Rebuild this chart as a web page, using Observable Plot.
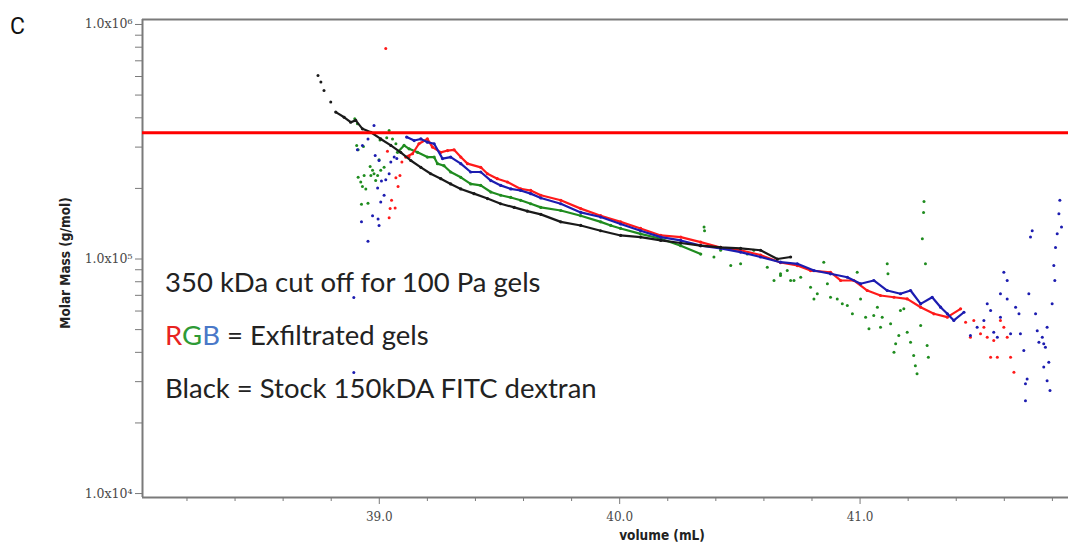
<!DOCTYPE html>
<html><head><meta charset="utf-8">
<script src="https://cdn.jsdelivr.net/npm/d3@7"></script>
<script src="https://cdn.jsdelivr.net/npm/@observablehq/plot@0.6"></script>
<style>
html,body{margin:0;padding:0;background:#fff;overflow:hidden}
#chart{position:relative;width:1068px;height:546px}
</style></head><body><div id="chart"></div>
<script>
// ---- axis settings / tick labels ----
const xDomain = [38.015, 41.867];
const yDomain = [9620, 1050000];
const xMajorTicks = [39, 40, 41];
const xTickLabels = ["39.0", "40.0", "41.0"];
const xMinorTicks = [38.2, 38.4, 38.6, 38.8, 39.2, 39.4, 39.6, 39.8, 40.2, 40.4, 40.6, 40.8, 41.2, 41.4, 41.6, 41.8];
const yMajorTicks = [1e4, 1e5, 1e6];
const yTickLabels = ["1.0x10\u2074", "1.0x10\u2075", "1.0x10\u2076"];
const yMinorTicks = [2e4, 3e4, 4e4, 5e4, 6e4, 7e4, 8e4, 9e4, 2e5, 3e5, 4e5, 5e5, 6e5, 7e5, 8e5, 9e5];
const cutoffMass = [345000];

// ---- Black: stock 150 kDa FITC dextran ----
const blackScatterVol = [38.745, 38.757, 38.770, 38.798];
const blackScatterMass = [606000, 568000, 523000, 467000];
const blackTraceVol = [38.819, 38.854, 38.881, 38.902, 38.930, 38.965, 39.006, 39.048, 39.089, 39.131, 39.173, 39.214, 39.256, 39.297, 39.339, 39.394, 39.450, 39.505, 39.561, 39.616, 39.672, 39.755, 39.838, 39.921, 40.004, 40.087, 40.171, 40.254, 40.337, 40.420, 40.503, 40.586, 40.656, 40.711];
const blackTraceMass = [423000, 402000, 383000, 390000, 359000, 347000, 325000, 305000, 285000, 263000, 246000, 231000, 220000, 209000, 199000, 190000, 181000, 172000, 166000, 160000, 155000, 144000, 139000, 132000, 126000, 124000, 120000, 117000, 114000, 112000, 111000, 109000, 100000, 102000];

// ---- Red gel ----
const redTraceVol = [39.110, 39.138, 39.165, 39.200, 39.221, 39.256, 39.284, 39.311, 39.339, 39.367, 39.422, 39.450, 39.491, 39.533, 39.588, 39.630, 39.672, 39.755, 39.838, 39.921, 40.004, 40.087, 40.171, 40.254, 40.337, 40.420, 40.503, 40.586, 40.669, 40.739, 40.794, 40.877, 40.919, 40.974, 41.030, 41.085, 41.141, 41.196, 41.252, 41.307, 41.363, 41.418];
const redTraceMass = [272000, 281000, 310000, 325000, 300000, 285000, 290000, 292000, 272000, 255000, 246000, 231000, 220000, 213000, 199000, 196000, 187000, 178000, 164000, 153000, 144000, 135000, 126000, 124000, 118000, 112000, 109000, 104000, 96600, 93800, 89300, 87800, 81000, 81000, 73400, 69900, 68700, 67600, 62300, 58400, 56500, 61300];
const redScatterVol = [39.027, 39.034, 39.069, 39.086, 39.078, 39.051, 39.066, 39.045, 39.041, 39.094, 39.124, 41.439, 41.459, 41.473, 41.501, 41.515, 41.529, 41.543, 41.556, 41.571, 41.584, 41.598, 41.612, 41.626, 41.640];
const redScatterMass = [790000, 288000, 222000, 227000, 204000, 178000, 165000, 164000, 150000, 259000, 272000, 53800, 46400, 54700, 48000, 51200, 46400, 38100, 44900, 38100, 54700, 51200, 46400, 38100, 32900];

// ---- Green gel ----
const greenTraceVol = [39.076, 39.103, 39.124, 39.159, 39.200, 39.228, 39.242, 39.269, 39.297, 39.339, 39.380, 39.422, 39.464, 39.505, 39.547, 39.588, 39.630, 39.672, 39.755, 39.838, 39.921, 39.963, 40.004, 40.087, 40.171, 40.254, 40.337];
const greenTraceMass = [285000, 305000, 295000, 285000, 272000, 272000, 255000, 250000, 235000, 223000, 209000, 206000, 193000, 187000, 183000, 178000, 172000, 166000, 161000, 153000, 144000, 139000, 135000, 128000, 122000, 114000, 105000];
const greenScatterVol = [38.898, 38.909, 38.906, 38.912, 38.934, 39.003, 39.041, 39.055, 39.069, 38.999, 38.962, 38.972, 38.912, 38.937, 38.965, 38.978, 38.993, 38.985, 38.923, 38.930, 38.944, 38.926, 38.953, 39.006, 39.020, 39.031,
  40.351, 40.353, 40.392, 40.420, 40.462, 40.503, 40.531, 40.558, 40.614, 40.642, 40.669, 40.697, 40.725,
  40.669, 40.711, 40.753, 40.794, 40.822, 40.808, 40.849, 40.864, 40.877, 40.905, 40.926, 40.947, 40.968, 40.988, 41.002, 41.023, 41.037, 41.057, 41.072, 41.092, 41.085, 41.113, 41.116, 41.127, 41.148, 41.141, 41.161, 41.168, 41.182, 41.196, 41.210, 41.223, 41.230, 41.237, 41.252, 41.259, 41.264, 41.266, 41.272, 41.279, 41.284];
const greenScatterMass = [396000, 377000, 305000, 292000, 302000, 322000, 353000, 325000, 310000, 265000, 248000, 239000, 223000, 227000, 227000, 231000, 227000, 216000, 213000, 204000, 199000, 171000, 173000, 239000, 246000, 329000,
  137000, 132000, 102000, 109000, 93800, 95400, 105000, 109000, 92300, 81000, 85000, 89300, 81000,
  86500, 81000, 83600, 75800, 71100, 67600, 96900, 78400, 68700, 67600, 64400, 63400, 58400, 87800, 67600, 56500, 50400, 57400, 62300, 56500, 51200, 95400, 86500, 52900, 43500, 40000, 47200, 60300, 61300, 48700, 44200, 38800, 35100, 32400, 52100, 122000, 158000, 176000, 95400, 42800, 38100];

// ---- Blue gel ----
const blueTraceVol = [39.114, 39.145, 39.173, 39.200, 39.228, 39.263, 39.297, 39.339, 39.380, 39.422, 39.464, 39.505, 39.547, 39.588, 39.630, 39.672, 39.755, 39.838, 39.921, 40.004, 40.087, 40.171, 40.254, 40.337, 40.420, 40.503, 40.586, 40.669, 40.739, 40.808, 40.877, 40.947, 41.002, 41.057, 41.113, 41.168, 41.210, 41.252, 41.300, 41.335, 41.363, 41.390, 41.432];
const blueTraceMass = [331000, 320000, 325000, 315000, 310000, 268000, 272000, 255000, 235000, 235000, 216000, 206000, 199000, 196000, 190000, 182000, 172000, 158000, 151000, 141000, 132000, 124000, 120000, 114000, 111000, 107000, 102000, 96900, 95400, 89300, 86500, 83600, 78400, 81000, 73400, 71100, 73400, 64400, 68700, 62300, 58400, 54700, 59300];
const blueScatterVol = [38.978, 38.953, 38.930, 38.909, 38.983, 38.999, 39.062, 39.048, 39.041, 39.027, 39.009, 38.993, 39.020, 39.006, 38.972, 38.995, 38.999, 38.926, 38.953, 39.073, 38.894, 38.894,
  41.459, 41.487, 41.515, 41.529, 41.543, 41.556, 41.571, 41.584, 41.584, 41.598, 41.612, 41.612, 41.626, 41.647, 41.661, 41.667, 41.681, 41.688, 41.695, 41.688, 41.702, 41.709, 41.716, 41.730, 41.737, 41.744, 41.758, 41.764, 41.771, 41.778, 41.764, 41.785, 41.790, 41.778, 41.799, 41.806, 41.810, 41.813, 41.820, 41.827, 41.831, 41.838];
const blueScatterMass = [371000, 325000, 305000, 292000, 276000, 263000, 272000, 259000, 231000, 218000, 215000, 201000, 187000, 175000, 153000, 148000, 139000, 144000, 119000, 268000, 68500, 32800,
  47200, 51200, 54700, 64400, 60300, 48700, 46400, 56500, 71100, 87800, 81000, 67600, 48000, 62300, 58400, 48000, 40700, 29400, 30800, 24900, 71100, 124000, 132000, 58400, 49500, 44200, 46400, 43500, 42100, 51200, 34600, 36300, 27500, 30300, 64400, 93800, 81000, 112000, 128000, 156000, 178000, 137000];

const colors = {red: "#ff1a1a", green: "#1f8c1f", blue: "#1c1cb0", black: "#1a1a1a"};

function rows(vol, mass) { return vol.map((v, i) => ({vol: v, mass: mass[i]})); }

function seriesMarks(traceVol, traceMass, scatVol, scatMass, c) {
  const out = [];
  if (traceVol) {
    const t = rows(traceVol, traceMass);
    out.push(Plot.line(t, {x: "vol", y: "mass", stroke: c, strokeWidth: 2.2, curve: "linear"}));
    out.push(Plot.dot(t, {x: "vol", y: "mass", r: 1.6, fill: c}));
  }
  if (scatVol) out.push(Plot.dot(rows(scatVol, scatMass), {x: "vol", y: "mass", r: 1.5, fill: c}));
  return out;
}

const frameColor = "#7a7a7a";
const tickFont = "'DejaVu Serif', 'Liberation Serif', serif";

const plot = Plot.plot({
  width: 1068, height: 546,
  marginTop: 19, marginBottom: 49, marginLeft: 142, marginRight: 0,
  style: {background: "#fff", fontFamily: tickFont},
  x: {domain: xDomain},
  y: {type: "log", domain: yDomain},
  marks: [
    // frame (top, left, bottom)
    Plot.ruleY([yDomain[1]], {stroke: frameColor, strokeWidth: 2}),
    Plot.ruleY([yDomain[0]], {stroke: frameColor, strokeWidth: 2}),
    Plot.ruleX([xDomain[0]], {stroke: frameColor, strokeWidth: 2}),
    // axes
    Plot.axisX(xMajorTicks, {tickSize: 7, tickPadding: 8, stroke: frameColor, fill: "#4a4a4a", fontSize: 12,
      tickFormat: d => xTickLabels[xMajorTicks.indexOf(d)], label: null}),
    Plot.axisX(xMinorTicks, {tickSize: 4, stroke: frameColor, tickFormat: () => "", label: null}),
    Plot.axisY(yMajorTicks, {tickSize: 7, tickPadding: 3, stroke: frameColor, fill: "#4a4a4a", fontSize: 12.5,
      tickFormat: d => yTickLabels[yMajorTicks.indexOf(d)], label: null}),
    Plot.axisY(yMinorTicks, {tickSize: 7, stroke: frameColor, tickFormat: () => "", label: null}),
    // data
    ...seriesMarks(greenTraceVol, greenTraceMass, greenScatterVol, greenScatterMass, colors.green),
    ...seriesMarks(redTraceVol, redTraceMass, redScatterVol, redScatterMass, colors.red),
    ...seriesMarks(blueTraceVol, blueTraceMass, blueScatterVol, blueScatterMass, colors.blue),
    ...seriesMarks(blackTraceVol, blackTraceMass, blackScatterVol, blackScatterMass, colors.black),
    // 350 kDa cut-off line
    Plot.ruleY(cutoffMass, {stroke: "#ff0000", strokeWidth: 3})
  ]
});

document.getElementById("chart").appendChild(plot);

// ---- annotations and titles ----
const svg = d3.select(plot);
const annoFont = "Lato, 'Open Sans', sans-serif";
svg.append("text").attr("x", 10).attr("y", 34).attr("text-anchor", "start")
  .attr("font-family", "Roboto, sans-serif").attr("font-size", 23).attr("fill", "#111").text("C");

svg.append("text").attr("transform", "translate(70,263) rotate(-90)").attr("text-anchor", "middle")
  .attr("font-family", "'DejaVu Sans Condensed', 'DejaVu Sans', sans-serif").attr("font-weight", "bold")
  .attr("font-size", 13.5).attr("fill", "#222").text("Molar Mass (g/mol)");

svg.append("text").attr("x", 662).attr("y", 540).attr("text-anchor", "middle")
  .attr("font-family", "'DejaVu Sans Condensed', 'DejaVu Sans', sans-serif").attr("font-weight", "bold")
  .attr("font-size", 13.5).attr("fill", "#222").text("volume (mL)");

const annoLines = [
  {y: 292, parts: [["350 kDa cut off for 100 Pa gels", "#222"]]},
  {y: 345, parts: [["R", "#e8231f"], ["G", "#2e9a36"], ["B", "#4a78c8"], [" = Exfiltrated gels", "#222"]]},
  {y: 398, parts: [["Black = Stock 150kDA FITC dextran", "#222"]]}
];
for (const line of annoLines) {
  const t = svg.append("text").attr("x", 165).attr("y", line.y).attr("text-anchor", "start")
    .attr("font-family", annoFont).attr("font-size", 27.5).attr("fill", "#222");
  for (const [s, c] of line.parts) t.append("tspan").attr("fill", c).text(s);
}
</script>
</body></html>
